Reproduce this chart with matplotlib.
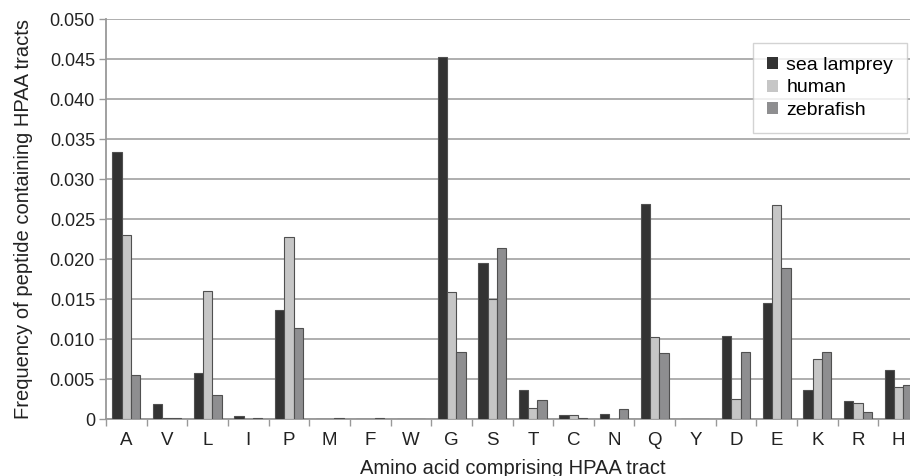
import matplotlib
matplotlib.use("Agg")
import matplotlib.pyplot as plt
import numpy as np

plt.rcParams['font.family'] = ['Liberation Sans', 'DejaVu Sans']

categories = ["A", "V", "L", "I", "P", "M", "F", "W", "G", "S",
              "T", "C", "N", "Q", "Y", "D", "E", "K", "R", "H"]
sea_lamprey = [0.0334, 0.0019, 0.00575, 0.0004, 0.01366, 0.0, 0.0, 0.0, 0.04525, 0.0196,
               0.00366, 0.00058, 0.0007, 0.0269, 0.0, 0.0104, 0.0146, 0.00366, 0.0023, 0.0062]
human = [0.0231, 0.0002, 0.0161, 0.0, 0.02275, 0.0001, 0.0001, 0.0001, 0.01595, 0.0150,
         0.00137, 0.0005, 0.0, 0.01025, 0.0, 0.00254, 0.0268, 0.0075, 0.0020, 0.0040]
zebrafish = [0.0056, 0.0002, 0.0030, 0.0002, 0.01145, 0.0002, 0.0002, 0.0, 0.0084, 0.0214,
             0.00245, 0.0002, 0.00125, 0.00825, 0.0, 0.0084, 0.0189, 0.00845, 0.00088, 0.0043]
series_names = ["sea lamprey", "human", "zebrafish"]
colors = ["#333333", "#c6c6c6", "#8e8e90"]
yticks = [0.000, 0.005, 0.010, 0.015, 0.020, 0.025, 0.030, 0.035, 0.040, 0.045, 0.050]
ytick_labels = ["0", "0.005", "0.010", "0.015", "0.020", "0.025", "0.030", "0.035",
                "0.040", "0.045", "0.050"]

W, H = 910, 476
fig = plt.figure(figsize=(W / 100, H / 100), dpi=100)
ax = fig.add_axes([106 / W, 56.7 / H, 813 / W, 400 / H])

x = np.arange(len(categories))
bw = 0.23
for i, (vals, name, c) in enumerate(zip([sea_lamprey, human, zebrafish], series_names, colors)):
    ax.bar(x + (i - 1) * bw, vals, width=bw, color=c, edgecolor="#505050",
           linewidth=0.8, label=name, zorder=3)

ax.set_xlim(-0.5, len(categories) - 0.5)
ax.set_ylim(0, 0.050)
ax.set_yticks(yticks)
ax.set_yticklabels(ytick_labels)
ax.set_xticks(x)
ax.set_xticklabels(categories)
ax.set_xticks(np.arange(-0.5, len(categories), 1.0), minor=True)
ax.tick_params(axis='x', which='major', length=0, pad=9.5, labelsize=13.5, colors='#222222')
ax.tick_params(axis='x', which='minor', length=5, width=1.0, color='#999999', direction='out')
ax.tick_params(axis='y', length=5, width=1.0, color='#999999', pad=3, labelsize=13,
               labelcolor='#222222')

ax.grid(axis='y', color='#a8a8a8', linewidth=1.3, zorder=0)
for s in ['top', 'right']:
    ax.spines[s].set_visible(False)
for s in ['left', 'bottom']:
    ax.spines[s].set_color('#999999')
    ax.spines[s].set_linewidth(1.3)

ax.set_xlabel("Amino acid comprising HPAA tract", fontsize=14.5, color='#222222', labelpad=6.5)
ax.set_ylabel("Frequency of peptide containing HPAA tracts", fontsize=14.5, color='#222222',
              labelpad=12)

leg = ax.legend(loc='upper left', bbox_to_anchor=(753 / W, 1 - 43 / H),
                bbox_transform=fig.transFigure, borderaxespad=0, frameon=True,
                fancybox=False, fontsize=14, handlelength=0.57, handleheight=0.57,
                handletextpad=0.45, labelspacing=0.3, borderpad=0.7)
leg.get_frame().set_edgecolor('#c8c8c8')
leg.get_frame().set_linewidth(1.0)
for h in leg.legend_handles:
    h.set_edgecolor('none')

fig.savefig("out.png", dpi=100)
